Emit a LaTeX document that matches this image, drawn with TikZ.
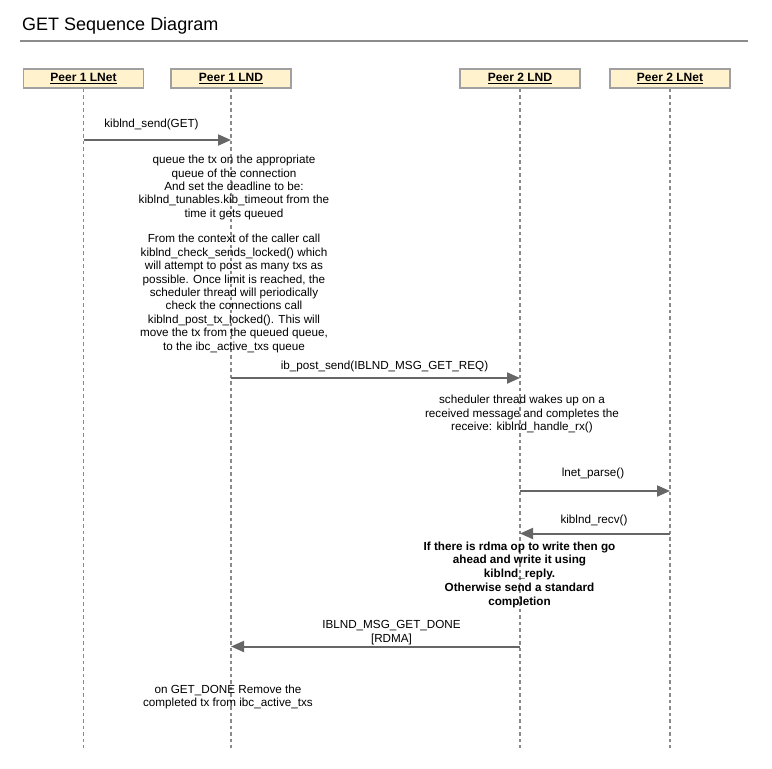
\documentclass[tikz,border=0pt]{standalone}
\usepackage{fontspec}
\setmainfont{Liberation Sans}
\usetikzlibrary{arrows.meta}
\definecolor{boxfill}{HTML}{FFF2CC}
\definecolor{boxline}{HTML}{A0A0A0}
\definecolor{arrowc}{HTML}{666666}
\definecolor{lifec}{HTML}{8A8A8A}
\definecolor{rulec}{HTML}{8C8C8C}
\tikzset{
  actor/.style={draw=boxline, line width=1.8pt, fill=boxfill, minimum width=120pt, minimum height=19pt, inner sep=0pt, font=\fontsize{12}{14}\selectfont\bfseries},
  life/.style={draw=lifec, line width=1.3pt, dash pattern=on 3.5pt off 3pt},
  msg/.style={draw=arrowc, line width=2pt, -{Triangle[length=13pt,width=11pt]}},
  lbl/.style={inner sep=0pt, align=center, font=\fontsize{11.7}{13.4}\selectfont},
  blbl/.style={inner sep=0pt, align=center, font=\fontsize{11.7}{13.75}\selectfont\bfseries},
}
\begin{document}
\begin{tikzpicture}[x=1pt,y=-1pt]
\useasboundingbox (0,0) rectangle (772,769);
% title
\node[anchor=base west, inner sep=0pt, font=\fontsize{18}{20}\selectfont] (title) at (22,30) {GET Sequence Diagram};
\coordinate (rulea) at (20,40.5);
\coordinate (ruleb) at (748,40.5);
\draw[draw=rulec, line width=2pt] (rulea) -- (ruleb);
% actors
\node[actor] (p1net) at (83.5,78.5) {\underline{Peer 1 LNet}};
\node[actor] (p1lnd) at (231,78.5) {\underline{Peer 1 LND}};
\node[actor] (p2lnd) at (520,78.5) {\underline{Peer 2 LND}};
\node[actor] (p2net) at (670,78.5) {\underline{Peer 2 LNet}};
% lifelines
\coordinate (e1) at (83.5,748);
\coordinate (e2) at (231,748);
\coordinate (e3) at (520,748);
\coordinate (e4) at (670,748);
\draw[life] (p1net.south) -- (e1);
\draw[life] (p1lnd.south) -- (e2);
\draw[life] (p2lnd.south) -- (e3);
\draw[life] (p2net.south) -- (e4);
% message 1
\coordinate (m1a) at (83.5,140);
\coordinate (m1b) at (231,140);
\draw[msg] (m1a) -- (m1b);
\node[lbl] (l1) at (151.5,124) {kiblnd\_send(GET)};
\node[lbl] (n1) at (234,187.5) {queue the tx on the appropriate\\queue of the connection\\And set the deadline to be:\\kiblnd\_tunables.kib\_timeout from the\\time it gets queued};
\node[lbl] (n2) at (234,293.5) {From the context of the caller call\\kiblnd\_check\_sends\_locked() which\\will attempt to post as many txs as\\possible. Once limit is reached, the\\scheduler thread will periodically\\check the connections call\\kiblnd\_post\_tx\_locked(). This will\\move the tx from the queued queue,\\to the ibc\_active\_txs queue};
% message 2
\coordinate (m2a) at (231,378);
\coordinate (m2b) at (520,378);
\draw[msg] (m2a) -- (m2b);
\node[lbl] (l2) at (384.5,366) {ib\_post\_send(IBLND\_MSG\_GET\_REQ)};
\node[lbl] (n3) at (522,414) {scheduler thread wakes up on a\\received message and completes the\\receive: kiblnd\_handle\_rx()};
% message 3
\coordinate (m3a) at (520,491);
\coordinate (m3b) at (670,491);
\draw[msg] (m3a) -- (m3b);
\node[lbl] (l3) at (593,473) {lnet\_parse()};
% message 4
\coordinate (m4a) at (670,533.5);
\coordinate (m4b) at (520,533.5);
\draw[msg] (m4a) -- (m4b);
\node[lbl] (l4) at (594,520) {kiblnd\_recv()};
\node[blbl] (n4) at (519.5,574.5) {If there is rdma op to write then go\\ahead and write it using\\kiblnd\_reply.\\Otherwise send a standard\\completion};
% message 5
\coordinate (m5a) at (520,646.5);
\coordinate (m5b) at (231,646.5);
\draw[msg] (m5a) -- (m5b);
\node[lbl] (l5) at (391.5,632.5) {IBLND\_MSG\_GET\_DONE\\{}[RDMA]};
\node[lbl] (n5) at (228,697) {on GET\_DONE Remove the\\completed tx from ibc\_active\_txs};
\end{tikzpicture}
\end{document}
